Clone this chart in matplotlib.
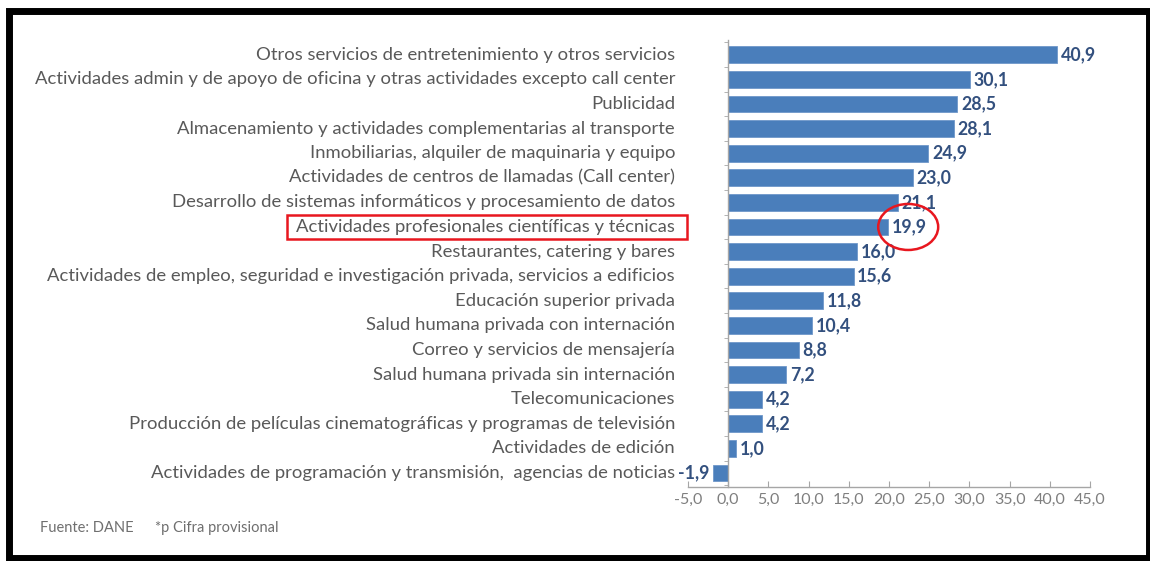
import matplotlib
matplotlib.use("Agg")
import matplotlib.pyplot as plt
from matplotlib.patches import Rectangle, Ellipse
from matplotlib import transforms
import matplotlib.font_manager as fm

available = {f.name for f in fm.fontManager.ttflist}
FONT = "Lato" if "Lato" in available else "DejaVu Sans"

categories = [
    "Otros servicios de entretenimiento y otros servicios",
    "Actividades admin y de apoyo de oficina y otras actividades excepto call center",
    "Publicidad",
    "Almacenamiento y actividades complementarias al transporte",
    "Inmobiliarias, alquiler de maquinaria y equipo",
    "Actividades de centros de llamadas (Call center)",
    "Desarrollo de sistemas informáticos y procesamiento de datos",
    "Actividades profesionales científicas y técnicas",
    "Restaurantes, catering y bares",
    "Actividades de empleo, seguridad e investigación privada, servicios a edificios",
    "Educación superior privada",
    "Salud humana privada con internación",
    "Correo y servicios de mensajería",
    "Salud humana privada sin internación",
    "Telecomunicaciones",
    "Producción de películas cinematográficas y programas de televisión",
    "Actividades de edición",
    "Actividades de programación y transmisión,  agencias de noticias",
]
values = [40.9, 30.1, 28.5, 28.1, 24.9, 23.0, 21.1, 19.9, 16.0, 15.6,
          11.8, 10.4, 8.8, 7.2, 4.2, 4.2, 1.0, -1.9]
xticks = [-5, 0, 5, 10, 15, 20, 25, 30, 35, 40, 45]
highlight = "Actividades profesionales científicas y técnicas"
source_text = "Fuente: DANE"
note_text = "*p Cifra provisional"

W, H = 1150, 561
fig = plt.figure(figsize=(W / 100, H / 100), dpi=100)
fig.patch.set_facecolor("white")

def fx(px):
    return px / W

def fy(py):
    return 1 - py / H

ax_left, ax_right = 688, 1090
ax_top, ax_bottom = 40, 487
ax = fig.add_axes([fx(ax_left), fy(ax_bottom), fx(ax_right - ax_left),
                   (ax_bottom - ax_top) / H])

n = len(values)
ypos = list(range(n))
bar_color = "#4A7EBB"
ax.barh(ypos, values, height=0.68, color=bar_color, edgecolor="#6F97C9",
        linewidth=0.6, zorder=2)
ax.set_xlim(-5, 45)
ax.set_ylim(n - 1 + 0.57, -0.6)

for s in ["top", "right"]:
    ax.spines[s].set_visible(False)
ax.spines["left"].set_position(("data", 0))
ax.spines["left"].set_color("#A6A6A6")
ax.spines["bottom"].set_color("#A6A6A6")
ax.spines["left"].set_linewidth(1.0)
ax.spines["bottom"].set_linewidth(1.0)

ax.set_xticks(xticks)
ax.set_xticklabels([f"{v:.1f}".replace(".", ",") for v in xticks],
                   fontsize=11.5, color="#7F7F7F", family=FONT)
ax.tick_params(axis="x", direction="in", length=4, color="#A6A6A6", pad=4)
ax.set_yticks([])
ax.set_yticks([i + 0.5 for i in range(-1, n)], minor=True)
ax.tick_params(axis="y", which="minor", direction="out", length=3,
               color="#A6A6A6", labelleft=False)

trans = transforms.blended_transform_factory(fig.transFigure, ax.transData)
label_x = fx(675)
for i, c in enumerate(categories):
    ax.text(label_x, i, c, transform=trans, ha="right", va="center",
            fontsize=13.3, color="#595959", family=FONT)

for i, v in enumerate(values):
    s = f"{v:.1f}".replace(".", ",")
    if v >= 0:
        ax.text(v + 0.45, i, s, ha="left", va="center", fontsize=12.8,
                fontweight="bold", color="#33507E", family=FONT)
    else:
        ax.text(v - 0.45, i, s, ha="right", va="center", fontsize=12.8,
                fontweight="bold", color="#33507E", family=FONT)

# highlight box around label
hi = categories.index(highlight)
_, yc = fig.transFigure.inverted().transform(ax.transData.transform((0, hi)))
box_h = 24 / H
fig.add_artist(Rectangle((fx(287), yc - box_h / 2), fx(687 - 287), box_h,
                         transform=fig.transFigure, fill=False,
                         edgecolor="#E8171F", linewidth=1.8))
# circle around value
xv, yv = fig.transFigure.inverted().transform(
    ax.transData.transform((values[hi], hi)))
fig.add_artist(Ellipse((xv + fx(20), yv), fx(60), 46 / H,
                       transform=fig.transFigure, fill=False,
                       edgecolor="#E8171F", linewidth=1.8))

fig.text(fx(40), fy(528), source_text, fontsize=10.5, color="#6F6F6F",
         family=FONT, va="center")
fig.text(fx(155), fy(528), note_text, fontsize=10.5, color="#6F6F6F",
         family=FONT, va="center")

# outer black frame
fig.add_artist(Rectangle((fx(8.5), fy(557.5)), fx(1149 - 8.5), (557.5 - 10.5) / H,
                         transform=fig.transFigure, fill=False,
                         edgecolor="black", linewidth=5))

fig.savefig("out.png", dpi=100)
